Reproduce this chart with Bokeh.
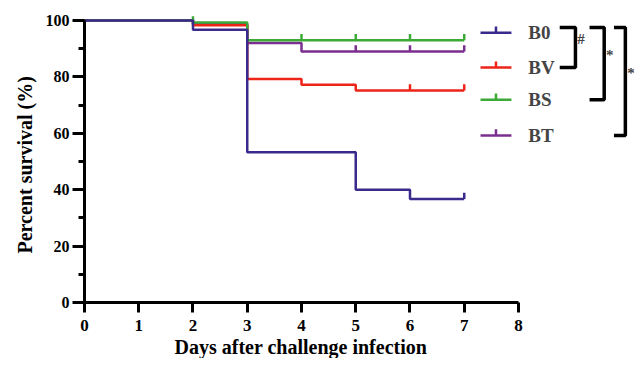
import numpy as np
from bokeh.plotting import figure
from bokeh.models import Range1d, SingleIntervalTicker, Label, Title
from bokeh.embed import file_html
from bokeh.resources import INLINE

# ---------------- data ----------------
days = [0, 2, 3, 4, 5, 6, 7]
groups = ["B0", "BV", "BS", "BT"]
surv_B0 = [100, 96.7, 53.3, 53.3, 40.0, 36.7, 36.7]
surv_BV = [100, 98.3, 79.3, 77.2, 75.2, 75.2, 75.2]
surv_BS = [100, 99.3, 93.0, 93.0, 93.0, 93.0, 93.0]
surv_BT = [100, 98.8, 92.0, 89.0, 89.0, 89.0, 89.0]
censor_B0 = [7]
censor_BV = [6, 7]
censor_BS = [2, 4, 5, 6, 7]
censor_BT = [5, 6, 7]
x_ticks = [0, 1, 2, 3, 4, 5, 6, 7, 8]
y_ticks = [0, 20, 40, 60, 80, 100]
comparisons = [("B0", "BV", "#"), ("B0", "BS", "*"), ("B0", "BT", "*")]

colors = {"B0": "#3B2A8C", "BV": "#EE2418", "BS": "#3DAA37", "BT": "#7A2E8E"}
series = {"B0": (surv_B0, censor_B0), "BV": (surv_BV, censor_BV),
          "BS": (surv_BS, censor_BS), "BT": (surv_BT, censor_BT)}

FONT = "Liberation Serif"
W, H = 635, 358

p = figure(width=W, height=H, output_backend="svg", toolbar_location=None,
           x_range=Range1d(0, 10.157), y_range=Range1d(0, 107.1),
           min_border_left=84, min_border_right=0, min_border_top=0,
           min_border_bottom=56)
p.title = None
p.outline_line_color = None
p.grid.visible = False
p.background_fill_color = "white"
p.border_fill_color = "white"

# axes
for ax in (p.xaxis[0], p.yaxis[0]):
    ax.axis_line_width = 3
    ax.major_tick_line_width = 3
    ax.minor_tick_line_width = 3
    ax.major_tick_in = 0
    ax.minor_tick_in = 0
    ax.major_label_text_font = FONT
    ax.major_label_text_font_style = "bold"
    ax.major_label_text_color = "black"

p.xaxis.ticker = SingleIntervalTicker(interval=1, num_minor_ticks=0)
p.xaxis.bounds = (x_ticks[0], x_ticks[-1])
p.xaxis.major_tick_out = 10
p.xaxis.major_label_standoff = 7
p.xaxis.major_label_text_font_size = "17px"

p.yaxis.ticker = SingleIntervalTicker(interval=20, num_minor_ticks=2)
p.yaxis.bounds = (y_ticks[0], y_ticks[-1])
p.yaxis.major_tick_out = 12
p.yaxis.minor_tick_out = 6
p.yaxis.major_label_standoff = 3
p.yaxis.major_label_text_font_size = "16px"

# axis titles as side-panel titles
p.add_layout(Title(text="Days after challenge infection", align="left",
                   offset=90, standoff=0, text_font=FONT,
                   text_font_style="bold", text_font_size="20px",
                   text_color="black"), "below")
p.add_layout(Title(text="Percent survival (%)", align="left",
                   offset=49, standoff=14, text_font=FONT,
                   text_font_style="bold", text_font_size="20px",
                   text_color="black"), "left")

# survival curves
for g in ["BT", "BV", "BS", "B0"]:
    s, cens = series[g]
    p.step(days, s, mode="after", line_color=colors[g], line_width=2.5)
    cv = [s[max(i for i, d in enumerate(days) if d <= t)] for t in cens]
    p.segment(x0=cens, y0=cv, x1=cens, y1=[v + 2.2 for v in cv],
              line_color=colors[g], line_width=2.5)

# legend (drawn manually)
leg_y = {"B0": 95.7, "BV": 83.3, "BS": 71.9, "BT": 59.2}
lx0, lx1 = 7.30, 7.87
for g in groups:
    y = leg_y[g]
    p.line([lx0, lx1], [y, y], line_color=colors[g], line_width=2.5)
    p.segment(x0=[(lx0 + lx1) / 2], y0=[y], x1=[(lx0 + lx1) / 2], y1=[y + 2.2],
              line_color=colors[g], line_width=2.5)
    p.add_layout(Label(x=8.18, y=y, text=g, text_align="left",
                       text_baseline="middle", text_font=FONT,
                       text_font_style="bold", text_font_size="19px"))

# significance brackets
br_x = [(8.76, 9.05), (9.31, 9.58), (9.76, 9.97)]
top = 97.5
for (a, b, sym), (xa, xb) in zip(comparisons, br_x):
    yb = leg_y[b]
    p.line([xa, xb, xb, xa], [top, top, yb, yb], line_color="black",
           line_width=3.5)
    p.add_layout(Label(x=xb + 0.035, y=(top + yb) / 2 + 3, text=sym,
                       text_align="left", text_baseline="middle",
                       text_font=FONT, text_font_style="bold",
                       text_font_size="15px"))

open("out.html", "w").write(file_html(p, INLINE))
